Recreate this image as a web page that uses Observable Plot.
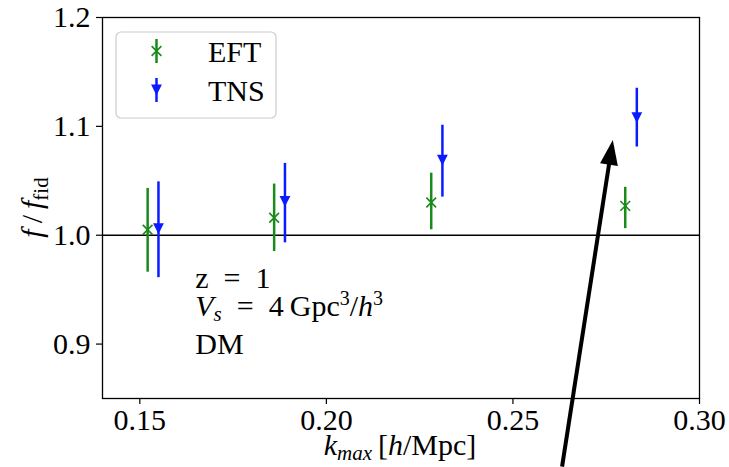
<!DOCTYPE html>
<html><head><meta charset="utf-8">
<script src="https://cdn.jsdelivr.net/npm/d3@7"></script>
<script src="https://cdn.jsdelivr.net/npm/@observablehq/plot@0.6"></script>
<style>
body{margin:0;background:#fff;}
#chart svg{display:block;}
</style></head><body><div id="chart"></div>
<script>
// ---- data ----
const kmaxEFT = [0.1521, 0.1860, 0.2281, 0.2801];
const fEFT    = [1.005, 1.016, 1.030, 1.027];
const loEFT   = [0.966, 0.985, 1.005, 1.006];
const hiEFT   = [1.043, 1.047, 1.057, 1.044];
const kmaxTNS = [0.1550, 0.1889, 0.2311, 0.2832];
const fTNS    = [1.006, 1.031, 1.069, 1.108];
const loTNS   = [0.961, 0.993, 1.035, 1.081];
const hiTNS   = [1.049, 1.066, 1.101, 1.135];
const xTicks = [0.15, 0.20, 0.25, 0.30];
const yTicks = [0.9, 1.0, 1.1, 1.2];
const refLine = [1.0];
const seriesNames = ["EFT", "TNS"];
const noteX = 0.165;
const noteY = [0.951, 0.925, 0.890];
const arrowTail = [0.2633, 0.787];
const arrowTip  = [0.2769, 1.087];

const GREEN = "#1a8a1a", BLUE = "#0a1cff";
const FONT = "'Liberation Serif','Times New Roman',serif";
const FS = 30;

const eft = kmaxEFT.map((k, i) => ({k, f: fEFT[i], lo: loEFT[i], hi: hiEFT[i]}));
const tns = kmaxTNS.map((k, i) => ({k, f: fTNS[i], lo: loTNS[i], hi: hiTNS[i]}));

const triDown = {
  draw(ctx, size) {
    const h = Math.sqrt(size / Math.PI) * 1.2;
    ctx.moveTo(0, h); ctx.lineTo(-h, -h); ctx.lineTo(h, -h); ctx.closePath();
  }
};

const chart = Plot.plot({
  width: 729, height: 467,
  marginLeft: 102, marginRight: 30, marginTop: 17, marginBottom: 69,
  style: {fontFamily: FONT, fontSize: FS + "px", color: "black", background: "white"},
  x: {domain: [0.14, 0.30]},
  y: {domain: [0.85, 1.2]},
  marks: [
    Plot.axisX({ticks: xTicks, tickFormat: d => d.toFixed(2), tickSize: 6, tickPadding: 4, label: null, strokeWidth: 1.2, fontSize: FS}),
    Plot.axisY({ticks: yTicks, tickFormat: d => d.toFixed(1), tickSize: 6, tickPadding: 6, label: null, strokeWidth: 1.2, fontSize: FS}),
    Plot.ruleY(refLine, {stroke: "black", strokeWidth: 1.5}),
    Plot.ruleX(eft, {x: "k", y1: "lo", y2: "hi", stroke: GREEN, strokeWidth: 2.5}),
    Plot.dot(eft, {x: "k", y: "f", symbol: "times", r: 4.5, stroke: GREEN, strokeWidth: 1.6}),
    Plot.ruleX(tns, {x: "k", y1: "lo", y2: "hi", stroke: BLUE, strokeWidth: 2.5}),
    Plot.dot(tns, {x: "k", y: "f", symbol: triDown, r: 4.5, fill: BLUE, stroke: "none"}),
    Plot.frame({stroke: "black", strokeWidth: 1.3})
  ]
});
document.getElementById("chart").appendChild(chart);

const svg = d3.select(chart);
const sx = chart.scale("x"), sy = chart.scale("y");
const X = v => sx.apply(v), Y = v => sy.apply(v);

function rich(g, parts, attrs) {
  const t = g.append("text").attr("font-family", FONT).attr("font-size", FS).attr("fill", "black")
    .attr("text-anchor", "start").style("text-anchor", "start");
  for (const k in attrs) { t.attr(k, attrs[k]); if (k === "text-anchor") t.style("text-anchor", attrs[k]); }
  for (const p of parts) {
    const s = t.append("tspan").text(p.t);
    if (p.i) s.attr("font-style", "italic");
    if (p.dy) s.attr("dy", p.dy);
    if (p.fs) s.attr("font-size", p.fs);
  }
  return t;
}

// y label
rich(svg, [
  {t: "f", i: 1}, {t: "\u2009/\u2009"}, {t: "f", i: 1},
  {t: "fid", fs: 21, dy: 6}
], {transform: `translate(42,${(17 + 398) / 2}) rotate(-90)`, "text-anchor": "middle"});

// x label
rich(svg, [
  {t: "k", i: 1}, {t: "max", i: 1, fs: 21, dy: 5}, {t: "\u2009[", dy: -5},
  {t: "h", i: 1}, {t: "/Mpc]"}
], {x: 400, y: 455, "text-anchor": "middle"});

// notes
rich(svg, [{t: "z\u2002=\u20021"}], {x: X(noteX), y: Y(noteY[0])});
rich(svg, [
  {t: "V", i: 1}, {t: "s", i: 1, fs: 21, dy: 5}, {t: "\u2002=\u20024\u2009Gpc", dy: -5},
  {t: "3", fs: 20, dy: -11}, {t: "/", dy: 11}, {t: "h", i: 1}, {t: "3", fs: 20, dy: -11}
], {x: X(noteX), y: Y(noteY[1])});
rich(svg, [{t: "DM"}], {x: X(noteX), y: Y(noteY[2])});

// legend
const lg = svg.append("g");
lg.append("rect").attr("x", 116).attr("y", 32).attr("width", 160).attr("height", 86)
  .attr("rx", 5).attr("fill", "white").attr("fill-opacity", 0.85).attr("stroke", "#cccccc").attr("stroke-width", 1.2);
const legendRows = [{y: 51, c: GREEN}, {y: 90, c: BLUE}];
legendRows.forEach((r, i) => {
  lg.append("line").attr("x1", 156.5).attr("x2", 156.5).attr("y1", r.y - 12).attr("y2", r.y + 12)
    .attr("stroke", r.c).attr("stroke-width", 2.5);
  if (i === 0) {
    lg.append("path").attr("d", d3.symbol(d3.symbolTimes, 63.6)()).attr("transform", `translate(156.5,${r.y})`)
      .attr("stroke", r.c).attr("stroke-width", 1.6).attr("fill", "none");
  } else {
    lg.append("path").attr("d", "M0,5.4L-5.4,-5.4L5.4,-5.4Z").attr("transform", `translate(156.5,${r.y})`)
      .attr("fill", r.c);
  }
  rich(lg, [{t: seriesNames[i]}], {x: 208, y: r.y + 11});
});

// arrow
const ax0 = X(arrowTail[0]), ay0 = Y(arrowTail[1]);
const ax1 = X(arrowTip[0]), ay1 = Y(arrowTip[1]);
const len = Math.hypot(ax1 - ax0, ay1 - ay0);
const ux = (ax1 - ax0) / len, uy = (ay1 - ay0) / len;
const px = -uy, py = ux;
const hl = 25, hw = 9;
const bx = ax1 - ux * hl, by = ay1 - uy * hl;
svg.append("line").attr("x1", ax0).attr("y1", ay0).attr("x2", ax1 - ux * (hl - 4)).attr("y2", ay1 - uy * (hl - 4))
  .attr("stroke", "black").attr("stroke-width", 4);
svg.append("path").attr("d", `M${ax1},${ay1}L${bx + px * hw},${by + py * hw}L${bx - px * hw},${by - py * hw}Z`)
  .attr("fill", "black");
</script></body></html>
